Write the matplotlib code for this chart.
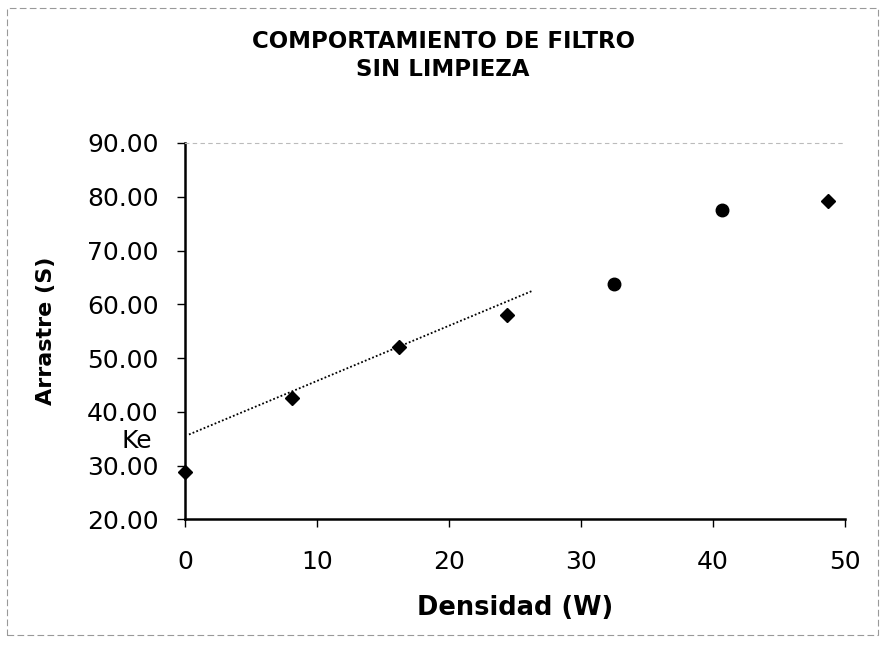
import matplotlib
matplotlib.use('Agg')
import matplotlib.pyplot as plt
from matplotlib.patches import Rectangle

# data
densidad = [0.0, 8.1, 16.2, 24.4, 32.5, 40.7, 48.7]
arrastre = [28.8, 42.5, 52.0, 58.0, 63.7, 77.5, 79.3]
marcas = ['D', 'D', 'D', 'D', 'o', 'o', 'D']

# hand drawn trend line (end points)
tend_x = [0.3, 26.3]
tend_y = [35.8, 62.5]

x_ticks = [0, 10, 20, 30, 40, 50]
y_ticks = [20, 30, 40, 50, 60, 70, 80, 90]

titulo = 'COMPORTAMIENTO DE FILTRO\nSIN LIMPIEZA'
x_label = 'Densidad (W)'
y_label = 'Arrastre (S)'

plt.rcParams['font.family'] = ['DejaVu Sans']

fig = plt.figure(figsize=(8.86, 6.45), dpi=100)
ax = fig.add_axes([0.2088, 0.1946, 0.745, 0.5837])

for x, y, m in zip(densidad, arrastre, marcas):
    ax.plot(x, y, marker=m, color='black', markersize=7 if m == 'D' else 9,
            linestyle='none', clip_on=False, zorder=3)

ax.plot(tend_x, tend_y, color='black', linestyle=(0, (1, 1.2)), linewidth=1.3)

ax.set_xlim(0, 50)
ax.set_ylim(20, 90)
ax.set_xticks(x_ticks)
ax.set_yticks(y_ticks)
ax.set_yticklabels([f'{v:.2f}' for v in y_ticks])
ax.tick_params(axis='both', labelsize=18, direction='out', length=6, width=1)
ax.tick_params(axis='x', pad=16)
ax.tick_params(axis='y', pad=13)

ax.spines['left'].set_linewidth(1.8)
ax.spines['bottom'].set_linewidth(1.8)
ax.spines['right'].set_visible(False)
ax.spines['top'].set_color('#bbbbbb')
ax.spines['top'].set_linestyle((0, (3, 4)))
ax.spines['top'].set_linewidth(0.8)

ax.set_xlabel(x_label, fontsize=18.5, fontweight='bold', labelpad=15)
ax.set_ylabel(y_label, fontsize=16, fontweight='bold', labelpad=22)

ax.text(-2.5, 34.6, 'Ke', fontsize=18, ha='right', va='center')

fig.text(0.5, 0.914, titulo, ha='center', va='center', fontsize=16.5,
         fontweight='bold', linespacing=1.3)

# outer chart border
fig.patches.append(Rectangle((0.008, 0.015), 0.983, 0.972, transform=fig.transFigure,
                             fill=False, edgecolor='#999999', linewidth=0.8,
                             linestyle=(0, (6, 3))))

fig.savefig('out.png', dpi=100)
